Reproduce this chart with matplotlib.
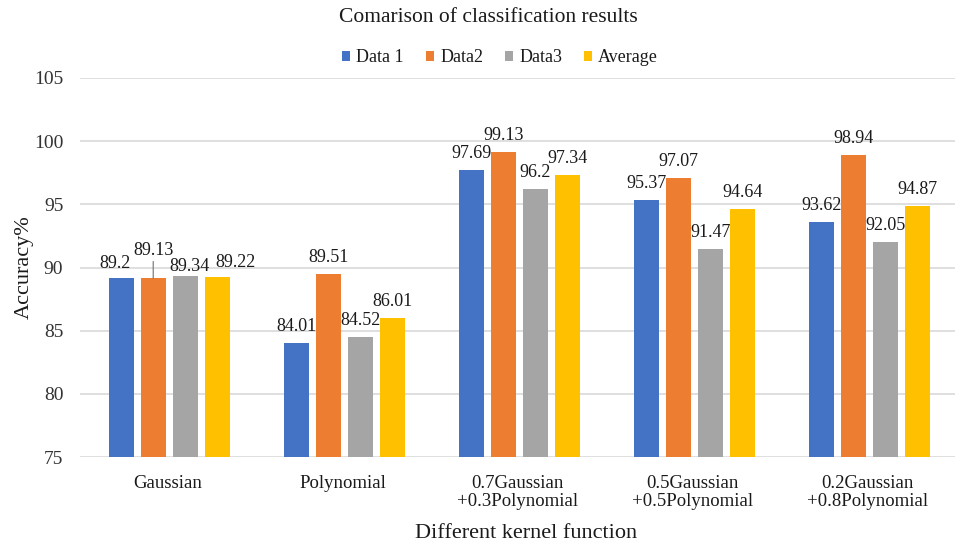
import matplotlib
matplotlib.use("Agg")
import matplotlib.pyplot as plt
import numpy as np

# Classification accuracy (%) for each kernel function
categories = [
    "Gaussian",
    "Polynomial",
    "0.7Gaussian\n+0.3Polynomial",
    "0.5Gaussian\n+0.5Polynomial",
    "0.2Gaussian\n+0.8Polynomial",
]
series_names = ["Data 1", "Data2", "Data3", "Average"]
data1 = [89.2, 84.01, 97.69, 95.37, 93.62]
data2 = [89.13, 89.51, 99.13, 97.07, 98.94]
data3 = [89.34, 84.52, 96.2, 91.47, 92.05]
average = [89.22, 86.01, 97.34, 94.64, 94.87]
y_ticks = [75, 80, 85, 90, 95, 100, 105]

series = [data1, data2, data3, average]
colors = ["#4472C4", "#ED7D31", "#A5A5A5", "#FFC000"]
text_color = "#1a1a1a"
grid_color = "#D9D9D9"

# hand-placed value labels in the crowded first group: (group, series) -> (dx, dy) in pixels
label_nudges = {
    (0, 0): (-6, -2),
    (0, 1): (0, 11),
    (0, 2): (4, -7),
    (0, 3): (18, -2),
}
leader_lines = {(0, 1)}

plt.rcParams["font.family"] = ["Liberation Serif", "DejaVu Serif"]

fig = plt.figure(figsize=(9.73, 5.46), dpi=100)
ax = fig.add_axes([80 / 973, 1 - 457 / 546, 875 / 973, (457 - 78) / 546])

x = np.arange(len(categories))
bar_w = 0.143
pitch = 0.183

for i, (vals, name, col) in enumerate(zip(series, series_names, colors)):
    xs = x + (i - 1.5) * pitch + 0.01
    ax.bar(xs, np.array(vals) - y_ticks[0], bottom=y_ticks[0], width=bar_w,
           color=col, label=name, zorder=3)
    for g, (xi, v) in enumerate(zip(xs, vals)):
        dx, dy = label_nudges.get((g, i), (0, 0))
        ax.annotate(f"{v:g}", xy=(xi, v), xytext=(dx, 12 + dy),
                    textcoords="offset pixels", ha="center", va="baseline",
                    fontsize=13, color=text_color, zorder=4)
        if (g, i) in leader_lines:
            ax.annotate("", xy=(xi, v), xytext=(0, 17), textcoords="offset pixels",
                        arrowprops=dict(arrowstyle="-", color="#7f7f7f", lw=0.9,
                                        shrinkA=0, shrinkB=0), zorder=4)

ax.set_xlim(-0.5, len(categories) - 0.5)
ax.set_ylim(y_ticks[0], y_ticks[-1])
ax.set_yticks(y_ticks)
for yt in y_ticks:
    ax.axhline(yt, color=grid_color, lw=1.2, zorder=1)

ax.set_xticks(x)
ax.set_xticklabels(categories, fontsize=13.5, color=text_color, linespacing=1.1)
ax.tick_params(axis="x", length=0, pad=13)
ax.tick_params(axis="y", length=0, pad=12, labelsize=14, labelcolor="#333333")
for s in ax.spines.values():
    s.set_visible(False)

ax.set_ylabel("Accuracy%", fontsize=16, color=text_color)
ax.yaxis.set_label_coords(-0.053, 0.5)
ax.set_xlabel("Different kernel function", fontsize=16, color=text_color)
ax.xaxis.set_label_coords(0.51, -0.178)

fig.text(488 / 973, 1 - 17 / 546, "Comarison of classification results",
         ha="center", va="center", fontsize=15.5, color=text_color)

fig.legend(loc="center", bbox_to_anchor=(500 / 973, 1 - 58 / 546), ncol=4,
           frameon=False, fontsize=13, handlelength=0.45, handleheight=0.45,
           handletextpad=0.35, columnspacing=1.2, labelcolor=text_color)

fig.savefig("out.png", dpi=100)
